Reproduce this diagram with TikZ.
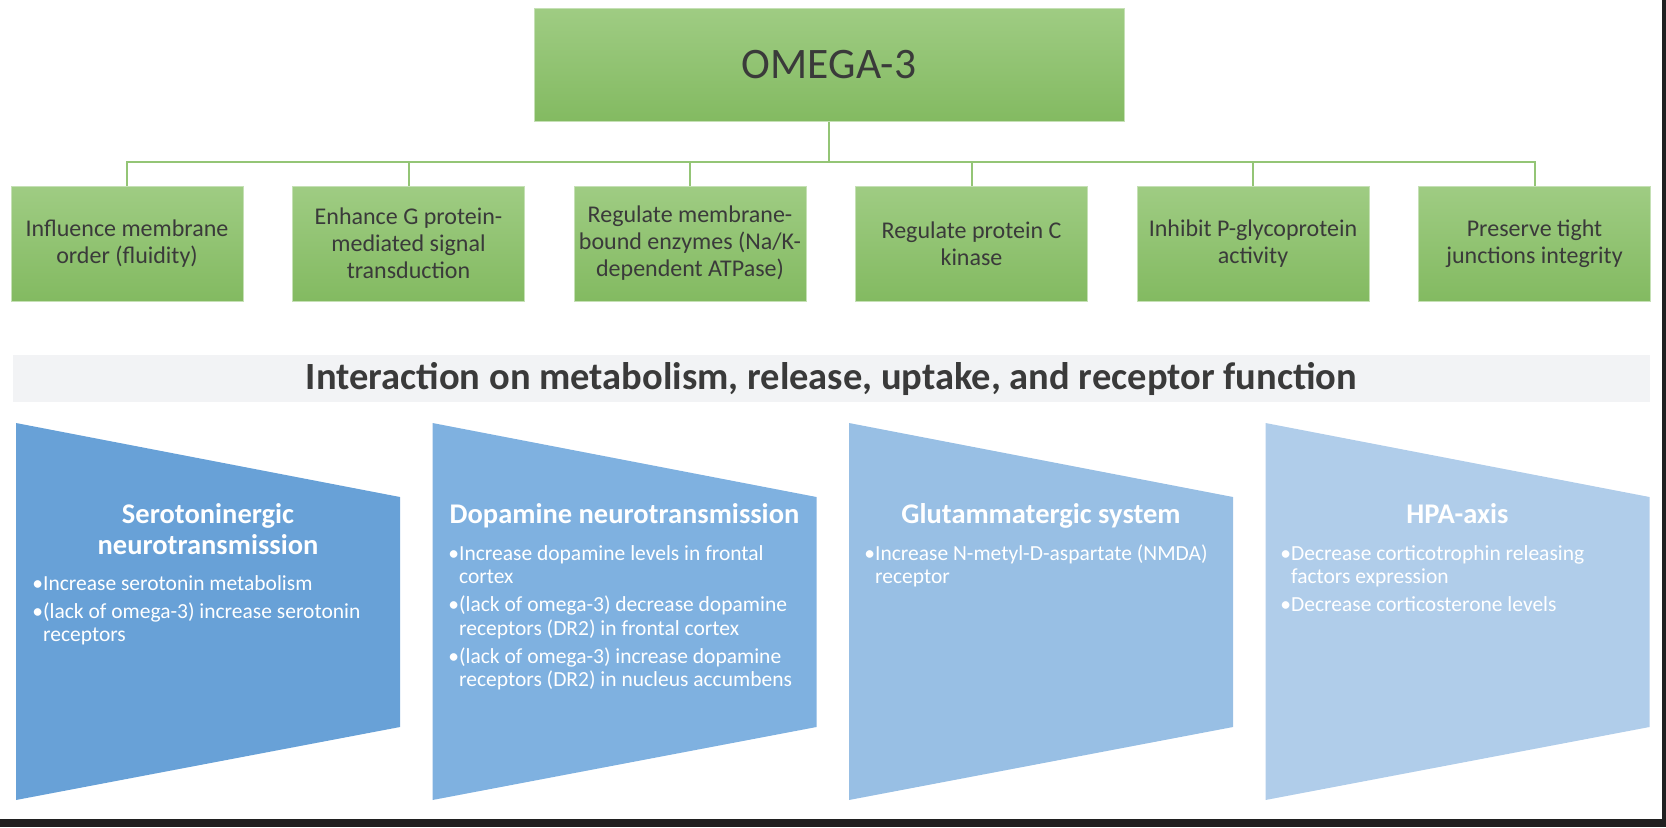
\documentclass[tikz,border=0pt]{standalone}
\usepackage{fontspec}
\setmainfont{Carlito}
\usetikzlibrary{positioning}

\definecolor{boxtop}{HTML}{9FCC83}
\definecolor{boxbot}{HTML}{83BA61}
\definecolor{linkgreen}{HTML}{94C576}
\definecolor{txtgray}{HTML}{3A3A3A}
\definecolor{bandgray}{HTML}{F2F3F5}
\definecolor{trapA}{HTML}{68A1D7}
\definecolor{trapB}{HTML}{7FB1E0}
\definecolor{trapC}{HTML}{98BFE4}
\definecolor{trapD}{HTML}{B0CDEA}
\definecolor{frame}{HTML}{202020}

\newcommand{\ind}{\phantom{\textbullet}}

\begin{document}
\begin{tikzpicture}[
    x=0.5pt, y=-0.5pt,
    node distance=24.35pt,
    box/.style={rectangle, top color=boxtop, bottom color=boxbot, draw=boxtop!60!white, line width=0.4pt, minimum width=116pt, minimum height=57.5pt, inner sep=0pt, align=center, text=txtgray, font=\fontsize{12}{13.5}\selectfont},
    link/.style={draw=linkgreen, line width=1pt},
    head/.style={text=white, font=\fontsize{14.25}{15.5}\selectfont\bfseries, align=center, anchor=base, inner sep=0pt},
    items/.style={text=white, font=\fontsize{10.75}{11.75}\selectfont, align=left, anchor=base west, inner sep=0pt}
]
\useasboundingbox (0,0) rectangle (1666,827);

% top tree
\node[box, minimum width=295pt, minimum height=56.75pt, font=\fontsize{21.75}{26}\selectfont] (omega) at (829,65) {OMEGA-3};
\node[box] (fluid) at (127,243.5) {Influence membrane\\order (fluidity)};
\node[box, right=of fluid] (gprot) {Enhance G protein-\\mediated signal\\transduction};
\node[box, right=of gprot] (enzymes) {Regulate membrane-\\bound enzymes (Na/K-\\dependent ATPase)};
\node[box, right=of enzymes] (kinase) {Regulate protein C\\kinase};
\node[box, right=of kinase] (pgly) {Inhibit P-glycoprotein\\activity};
\node[box, right=of pgly] (tight) {Preserve tight\\junctions integrity};

\coordinate (bus) at (0,162);
\draw[link] (omega.south) -- (omega.south |- bus);
\draw[link] (fluid.north) |- (tight.north |- bus) -- (tight.north);
\draw[link] (gprot.north) -- (gprot.north |- bus);
\draw[link] (enzymes.north) -- (enzymes.north |- bus);
\draw[link] (kinase.north) -- (kinase.north |- bus);
\draw[link] (pgly.north) -- (pgly.north |- bus);

% banner
\node[fill=bandgray, minimum width=818.5pt, minimum height=23.5pt, inner sep=0pt, text=txtgray, font=\fontsize{19.25}{22}\selectfont\bfseries] (band) at (831.5,378.5) {Interaction on metabolism, release, uptake, and receptor function};

% systems (multi-line nodes sit on their last baseline)
\fill[trapA] (16,423) -- (400,497) -- (400,727) -- (16,800) -- cycle;
\fill[trapB] (432.5,423) -- (816.5,497) -- (816.5,727) -- (432.5,800) -- cycle;
\fill[trapC] (849,423) -- (1233,497) -- (1233,727) -- (849,800) -- cycle;
\fill[trapD] (1265.5,423) -- (1649.5,497) -- (1649.5,727) -- (1265.5,800) -- cycle;

\node[head] (sero) at (208,554) {Serotoninergic\\neurotransmission};
\node[items] (seroitems) at (32,641.6) {\textbullet Increase serotonin metabolism\\[2.3pt]\textbullet(lack of omega-3) increase serotonin\\\ind receptors};

\node[head] (dopa) at (624.5,523) {Dopamine neurotransmission};
\node[items] (dopaitems) at (448,686.7) {\textbullet Increase dopamine levels in frontal\\\ind cortex\\[2.3pt]\textbullet(lack of omega-3) decrease dopamine\\\ind receptors (DR2) in frontal cortex\\[2.3pt]\textbullet(lack of omega-3) increase dopamine\\\ind receptors (DR2) in nucleus accumbens};

\node[head] (glut) at (1041,523) {Glutammatergic system};
\node[items] (glutitems) at (864,583.5) {\textbullet Increase N-metyl-D-aspartate (NMDA)\\\ind receptor};

\node[head] (hpa) at (1457.5,523) {HPA-axis};
\node[items] (hpaitems) at (1280,611.6) {\textbullet Decrease corticotrophin releasing\\\ind factors expression\\[2.3pt]\textbullet Decrease corticosterone levels};

% screen edge
\fill[frame] (0,819) rectangle (1666,827);
\fill[frame] (1662,0) rectangle (1666,827);
\end{tikzpicture}
\end{document}
